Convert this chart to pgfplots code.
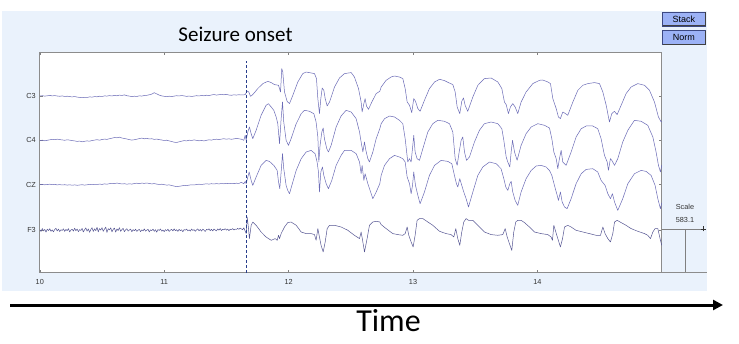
\documentclass[border=0pt]{standalone}
\usepackage{fontspec}
\setmainfont{Liberation Sans}
\newfontfamily\calibri{Carlito}
\usepackage{pgfplots}
\usepackage{pgfplotstable}
\pgfplotsset{compat=1.18}
\usetikzlibrary{arrows.meta}

\definecolor{panel}{RGB}{234,242,252}
\definecolor{trace}{RGB}{106,106,182}
\definecolor{onset}{RGB}{40,62,140}
\definecolor{btn}{RGB}{156,178,246}
\definecolor{btnedge}{RGB}{60,72,130}

% amplitude a in px above each channel's baseline, t in s
\pgfplotstableread[row sep=\\]{
t a\\
10.00 0.3\\10.02 0.6\\10.04 0.2\\10.06 0.5\\10.08 0.9\\10.10 0.4\\10.12 0.7\\10.14 0.3\\10.16 0.0\\10.18 0.4\\
10.20 -0.2\\10.22 0.1\\10.24 -0.3\\10.26 -0.6\\10.28 -0.2\\10.30 -0.8\\10.32 -1.1\\10.34 -1.4\\10.36 -1.0\\10.38 -1.2\\
10.40 -0.6\\10.42 -0.8\\10.44 -0.3\\10.46 -0.5\\10.48 0.1\\10.50 -0.2\\10.52 0.4\\10.54 0.2\\10.56 0.7\\10.58 0.3\\
10.60 0.9\\10.62 0.5\\10.64 1.2\\10.66 0.8\\10.68 1.4\\10.70 0.6\\10.72 0.2\\10.74 -0.3\\10.76 0.1\\10.78 -0.2\\
10.80 0.5\\10.82 0.2\\10.84 0.8\\10.86 1.0\\10.88 1.5\\10.90 2.2\\10.92 3.6\\10.94 2.4\\10.96 1.2\\10.98 0.4\\
11.00 0.0\\11.02 -0.4\\11.04 0.1\\11.06 -0.3\\11.08 0.2\\11.10 0.6\\11.12 0.3\\11.14 0.8\\11.16 0.4\\11.18 -0.1\\
11.20 0.3\\11.22 -0.2\\11.24 0.2\\11.26 0.6\\11.28 0.3\\11.30 0.9\\11.32 0.5\\11.34 1.1\\11.36 0.7\\11.38 1.3\\
11.40 1.8\\11.42 1.2\\11.44 1.6\\11.46 2.0\\11.48 1.5\\11.50 1.9\\11.52 1.3\\11.54 1.0\\11.56 1.5\\11.58 1.2\\
11.60 1.6\\11.62 1.3\\11.64 1.5\\
11.651 1.7\\11.667 5.3\\11.680 4.3\\11.694 0.0\\11.712 1.7\\11.752 7.7\\11.793 12.7\\11.833 15.0\\11.860 13.7\\11.886 11.7\\
11.919 11.0\\11.935 4.3\\11.945 27.7\\11.953 24.3\\11.967 4.3\\11.988 -5.0\\12.007 -7.3\\12.034 1.0\\12.074 14.3\\12.114 22.7\\
12.141 24.3\\12.208 22.7\\12.224 17.7\\12.235 -2.3\\12.248 -17.3\\12.259 -2.3\\12.270 8.3\\12.283 6.0\\12.294 -2.3\\12.310 -9.7\\
12.329 -5.7\\12.369 9.3\\12.409 18.3\\12.449 22.7\\12.503 23.7\\12.529 19.3\\12.562 7.7\\12.583 -5.7\\12.591 -15.7\\12.605 -7.3\\
12.615 -2.3\\12.626 -9.7\\12.642 -13.0\\12.669 -5.7\\12.704 2.7\\12.733 5.0\\
12.744 9.3\\12.784 16.0\\12.824 19.3\\12.851 20.3\\12.891 19.3\\12.918 17.7\\12.937 7.7\\12.953 -5.7\\12.972 -9.0\\12.990 -16.3\\
13.006 -2.3\\13.020 -5.0\\13.039 -12.3\\13.057 -15.0\\13.092 -4.0\\13.132 7.7\\13.173 14.3\\13.213 17.0\\13.253 15.7\\13.285 13.7\\
13.320 11.7\\13.339 4.3\\13.355 -10.7\\13.376 -17.3\\13.392 -5.0\\13.406 -1.7\\13.419 -9.0\\13.440 -15.0\\13.481 -0.7\\13.521 11.0\\
13.574 17.7\\13.628 18.3\\13.682 14.3\\13.714 7.7\\13.735 -5.7\\13.749 -8.3\\13.767 -17.3\\13.783 -10.7\\13.802 -7.3\\13.821 -10.7\\
13.837 -15.7\\
13.842 -17.3\\13.869 -5.7\\13.909 4.3\\13.963 12.7\\14.017 16.0\\14.043 16.3\\14.084 14.3\\14.105 12.7\\14.124 -2.3\\14.151 -12.3\\
14.169 -20.7\\14.185 -22.3\\14.204 -15.7\\14.226 -17.3\\14.244 -19.0\\14.285 -5.7\\14.325 6.0\\14.365 11.0\\14.405 12.7\\14.459 13.7\\
14.499 12.7\\14.526 4.3\\14.553 -9.0\\14.579 -25.7\\14.598 -17.3\\14.619 -15.0\\14.641 -18.3\\14.673 -9.0\\14.713 2.7\\14.753 9.3\\
14.807 12.7\\14.861 11.0\\14.901 6.0\\14.941 -5.7\\14.973 -20.7\\14.995 -25.7\\15.00 -25.0\\
}\cthree

\pgfplotstableread[row sep=\\]{
t a\\
10.00 -0.6\\10.02 -0.2\\10.04 -0.8\\10.06 -0.3\\10.08 0.2\\10.10 0.6\\10.12 0.3\\10.14 0.8\\10.16 0.4\\10.18 0.1\\
10.20 -0.3\\10.22 0.2\\10.24 -0.1\\10.26 -0.6\\10.28 -0.9\\10.30 -1.4\\10.32 -1.1\\10.34 -1.8\\10.36 -1.3\\10.38 -0.9\\
10.40 -1.2\\10.42 -0.5\\10.44 -0.1\\10.46 0.3\\10.48 -0.2\\10.50 0.5\\10.52 0.9\\10.54 0.6\\10.56 1.3\\10.58 1.8\\
10.60 2.5\\10.62 2.2\\10.64 2.8\\10.66 2.0\\10.68 1.5\\10.70 1.0\\10.72 0.4\\10.74 -0.1\\10.76 0.3\\10.78 0.8\\
10.80 1.4\\10.82 1.9\\10.84 1.2\\10.86 1.7\\10.88 1.0\\10.90 1.3\\10.92 0.6\\10.94 0.9\\10.96 0.4\\10.98 0.0\\
11.00 -0.5\\11.02 -0.2\\11.04 -0.9\\11.06 -1.5\\11.08 -2.2\\11.10 -2.5\\11.12 -1.8\\11.14 -1.2\\11.16 -0.6\\11.18 -0.9\\
11.20 -0.2\\11.22 -0.5\\11.24 0.1\\11.26 -0.4\\11.28 -0.8\\11.30 -0.5\\11.32 -0.9\\11.34 -0.3\\11.36 0.2\\11.38 -0.1\\
11.40 0.5\\11.42 0.8\\11.44 0.4\\11.46 0.9\\11.48 1.3\\11.50 0.8\\11.52 1.2\\11.54 0.7\\11.56 1.1\\11.58 1.6\\
11.60 1.2\\11.62 0.8\\
11.640 -0.3\\11.651 4.7\\11.659 -0.3\\11.672 8.0\\11.685 13.0\\11.699 6.3\\11.712 1.3\\11.739 9.7\\11.779 24.7\\11.819 34.7\\
11.838 36.3\\11.860 33.0\\11.881 29.7\\11.900 23.0\\11.913 16.3\\11.927 -3.7\\11.940 21.3\\11.951 38.0\\11.961 18.0\\11.980 -0.3\\
11.999 -5.3\\12.020 1.3\\12.061 16.3\\12.101 26.3\\12.128 29.7\\12.168 28.7\\12.203 26.3\\12.221 18.0\\12.235 3.0\\12.243 -22.0\\
12.253 -5.3\\12.267 8.0\\12.278 12.0\\12.288 1.3\\12.307 -8.7\\12.320 -12.0\\12.342 -5.3\\12.382 13.0\\12.422 24.0\\12.462 29.7\\
12.503 28.0\\12.543 21.3\\12.570 8.0\\12.583 -2.0\\12.597 -12.0\\12.610 -2.0\\12.621 -10.3\\12.637 -18.7\\12.650 -22.0\\12.677 -12.0\\
12.704 1.3\\12.733 11.3\\
12.744 16.3\\12.771 21.3\\12.811 24.0\\12.851 23.0\\12.891 19.7\\12.918 16.3\\12.937 1.3\\12.958 -22.0\\12.972 -18.7\\12.985 -22.0\\
13.001 -2.0\\13.006 4.7\\13.017 -12.0\\13.033 -18.7\\13.052 -20.3\\13.079 -8.7\\13.119 8.0\\13.159 16.3\\13.199 19.7\\13.253 18.7\\
13.293 16.3\\13.320 8.0\\13.339 -18.7\\13.355 -25.3\\13.371 -12.0\\13.387 -0.3\\13.400 3.0\\13.414 -12.0\\13.430 -20.3\\13.454 -17.0\\
13.494 -2.0\\13.534 9.7\\13.574 16.3\\13.628 18.0\\13.682 16.3\\13.714 11.3\\13.730 -0.3\\13.749 -17.0\\13.762 -22.0\\13.778 -27.0\\
13.789 -12.0\\13.800 -0.3\\13.816 -12.0\\13.837 -20.3\\
13.869 -5.3\\13.909 6.3\\13.950 13.0\\14.003 16.3\\14.057 14.7\\14.097 12.0\\14.116 1.3\\14.132 -12.0\\14.151 -18.7\\14.164 -28.7\\
14.177 -18.7\\14.191 -10.3\\14.204 -22.0\\14.231 -25.3\\14.271 -12.0\\14.311 3.0\\14.352 11.3\\14.392 14.0\\14.445 14.0\\14.485 11.3\\
14.512 1.3\\14.539 -15.3\\14.561 -22.0\\14.571 -30.3\\14.587 -18.7\\14.598 -20.3\\14.620 -25.3\\14.646 -18.7\\14.686 -2.0\\14.727 9.7\\
14.780 19.7\\14.834 18.7\\14.887 14.7\\14.928 3.0\\14.954 -12.0\\14.973 -25.3\\14.989 -32.0\\15.00 -25.0\\
}\cfour

\pgfplotstableread[row sep=\\]{
t a\\
10.00 0.0\\10.02 0.3\\10.04 -0.1\\10.06 0.2\\10.08 0.5\\10.10 0.1\\10.12 0.3\\10.14 -0.2\\10.16 0.1\\10.18 -0.3\\
10.20 0.0\\10.22 -0.4\\10.24 -0.1\\10.26 -0.5\\10.28 -0.2\\10.30 -0.6\\10.32 -0.3\\10.34 0.0\\10.36 -0.4\\10.38 -0.1\\
10.40 0.3\\10.42 0.0\\10.44 0.4\\10.46 0.2\\10.48 0.6\\10.50 0.3\\10.52 0.8\\10.54 0.5\\10.56 1.0\\10.58 1.4\\
10.60 1.1\\10.62 1.6\\10.64 1.2\\10.66 0.7\\10.68 1.0\\10.70 0.5\\10.72 0.9\\10.74 0.6\\10.76 1.2\\10.78 1.5\\
10.80 1.1\\10.82 1.6\\10.84 1.3\\10.86 1.7\\10.88 1.2\\10.90 0.8\\10.92 1.1\\10.94 0.6\\10.96 0.2\\10.98 0.5\\
11.00 0.0\\11.02 -0.4\\11.04 -0.2\\11.06 -0.8\\11.08 -1.4\\11.10 -2.0\\11.12 -1.6\\11.14 -1.2\\11.16 -0.7\\11.18 -0.9\\
11.20 -0.4\\11.22 -0.1\\11.24 -0.3\\11.26 0.2\\11.28 0.5\\11.30 0.2\\11.32 0.6\\11.34 0.9\\11.36 0.6\\11.38 1.0\\
11.40 0.7\\11.42 1.1\\11.44 0.8\\11.46 1.2\\11.48 0.9\\11.50 1.3\\11.52 1.0\\11.54 1.4\\11.56 1.1\\11.58 1.5\\
11.60 1.2\\11.62 2.4\\11.64 1.0\\
11.651 3.3\\11.659 1.0\\11.672 7.7\\11.683 12.7\\11.699 4.3\\11.712 -0.7\\11.739 7.7\\11.779 19.3\\11.819 24.3\\11.846 23.3\\
11.881 19.3\\11.908 14.3\\11.919 2.7\\11.929 -4.0\\11.940 12.7\\11.951 31.0\\11.961 16.0\\11.980 -0.7\\11.993 -5.7\\12.007 -9.0\\
12.026 -0.7\\12.061 14.3\\12.101 26.0\\12.141 32.7\\12.181 34.3\\12.213 31.0\\12.229 22.7\\12.240 12.7\\12.248 -7.3\\12.259 12.7\\
12.272 17.7\\12.283 9.3\\12.302 1.0\\12.320 -4.0\\12.347 4.3\\12.382 19.3\\12.422 29.3\\12.449 34.3\\12.503 34.3\\12.543 31.0\\
12.570 22.7\\12.583 11.0\\12.591 19.3\\12.605 4.3\\12.615 11.0\\12.637 1.0\\12.677 -14.0\\12.704 -7.3\\12.733 1.0\\
12.744 9.3\\12.771 19.3\\12.811 26.0\\12.851 29.3\\12.891 27.7\\12.918 26.0\\12.937 22.7\\12.953 7.7\\12.972 1.0\\12.985 -9.0\\
12.996 -0.7\\13.006 12.7\\13.020 -0.7\\13.039 -10.7\\13.057 -19.0\\13.092 -7.3\\13.132 9.3\\13.173 19.3\\13.226 24.3\\13.280 23.3\\
13.312 21.0\\13.333 9.3\\13.349 1.0\\13.360 -2.3\\13.376 6.0\\13.392 -0.7\\13.408 -7.3\\13.427 -14.0\\13.446 -22.3\\13.481 -7.3\\
13.521 9.3\\13.561 17.7\\13.615 22.7\\13.668 21.0\\13.708 16.0\\13.730 6.0\\13.746 -2.3\\13.762 -5.7\\13.778 1.0\\13.789 3.3\\
13.802 -7.3\\13.821 -15.7\\13.842 -20.7\\
13.869 -7.3\\13.909 6.0\\13.950 14.3\\13.990 18.7\\14.030 19.3\\14.070 17.7\\14.097 14.3\\14.116 9.3\\14.137 -0.7\\14.159 -10.7\\
14.169 -15.7\\14.185 -7.3\\14.199 -17.3\\14.218 -22.3\\14.239 -24.0\\14.271 -14.0\\14.311 1.0\\14.352 11.0\\14.392 15.3\\14.445 16.0\\
14.485 12.7\\14.512 4.3\\14.544 -0.7\\14.566 -9.0\\14.587 -14.0\\14.603 -9.0\\14.620 -17.3\\14.646 -25.7\\14.686 -14.0\\14.727 1.0\\
14.780 11.0\\14.834 14.3\\14.874 13.3\\14.914 9.3\\14.946 -0.7\\14.968 -14.0\\14.989 -24.0\\15.00 -18.0\\
}\cz

\pgfplotstableread[row sep=\\]{
t a\\
10.00 0.5\\10.01 -1.2\\10.02 1.8\\10.03 -0.6\\10.04 0.9\\10.05 -1.8\\10.06 1.1\\10.07 -0.3\\10.08 1.6\\10.09 -1.0\\
10.10 0.4\\10.11 -1.5\\10.12 0.8\\10.13 2.0\\10.14 -0.7\\10.15 1.2\\10.16 -1.3\\10.17 0.6\\10.18 -0.2\\10.19 1.5\\
10.20 -1.1\\10.21 0.9\\10.22 -0.4\\10.23 1.7\\10.24 -1.6\\10.25 0.3\\10.26 1.0\\10.27 -0.8\\10.28 2.1\\10.29 -0.5\\
10.30 1.3\\10.31 -1.4\\10.32 0.7\\10.33 -0.2\\10.34 1.9\\10.35 -1.7\\10.36 0.6\\10.37 2.4\\10.38 -0.9\\10.39 1.4\\
10.40 -2.0\\10.41 0.8\\10.42 2.6\\10.43 -1.2\\10.44 1.5\\10.45 -0.4\\10.46 3.0\\10.47 -1.6\\10.48 1.8\\10.49 0.2\\
10.50 2.7\\10.51 -1.0\\10.52 1.2\\10.53 3.2\\10.54 -2.2\\10.55 1.6\\10.56 0.4\\10.57 2.5\\10.58 -1.5\\10.59 0.9\\
10.60 2.2\\10.61 -1.8\\10.62 1.4\\10.63 -0.3\\10.64 2.6\\10.65 -1.1\\10.66 0.8\\10.67 1.9\\10.68 -1.4\\10.69 0.5\\
10.70 1.6\\10.71 -0.9\\10.72 0.3\\10.73 1.2\\10.74 -1.5\\10.75 0.7\\10.76 -0.4\\10.77 1.1\\10.78 -1.2\\10.79 0.2\\
10.80 0.9\\10.81 -1.3\\10.82 0.5\\10.83 -0.6\\10.84 1.4\\10.85 -0.8\\10.86 0.1\\10.87 1.0\\10.88 -1.6\\10.89 0.4\\
10.90 -0.3\\10.91 1.2\\10.92 -1.0\\10.93 0.6\\10.94 -1.9\\10.95 0.8\\10.96 -0.2\\10.97 1.3\\10.98 -0.9\\10.99 0.3\\
11.00 -1.4\\11.01 0.7\\11.02 -0.5\\11.03 1.1\\11.04 -1.2\\11.05 0.2\\11.06 0.9\\11.07 -0.7\\11.08 1.5\\11.09 -0.4\\
11.10 0.6\\11.11 -1.1\\11.12 1.0\\11.13 -0.3\\11.14 0.5\\11.15 -1.5\\11.16 0.8\\11.17 0.1\\11.18 1.2\\11.19 -0.6\\
11.20 0.4\\11.21 -0.9\\11.22 1.3\\11.23 -0.2\\11.24 0.7\\11.25 -1.0\\11.26 0.5\\11.27 1.4\\11.28 -0.5\\11.29 0.9\\
11.30 -0.8\\11.31 1.1\\11.32 0.2\\11.33 -1.2\\11.34 0.9\\11.35 0.4\\11.36 1.5\\11.37 -0.4\\11.38 1.0\\11.39 -0.7\\
11.40 1.2\\11.41 0.3\\11.42 -0.6\\11.43 1.4\\11.44 0.1\\11.45 1.8\\11.46 -0.3\\11.47 0.9\\11.48 0.5\\11.49 1.6\\
11.50 0.2\\11.51 1.3\\11.52 -0.4\\11.53 1.1\\11.54 0.6\\11.55 1.7\\11.56 0.3\\11.57 1.2\\11.58 0.8\\11.59 1.9\\
11.60 1.0\\11.61 2.2\\11.62 1.4\\11.63 0.6\\11.64 2.5\\
11.659 -3.3\\11.667 13.3\\11.675 5.0\\11.685 -8.3\\11.699 5.0\\11.712 8.3\\11.739 5.0\\11.779 -1.7\\11.819 -6.7\\11.860 -10.0\\
11.892 -8.3\\11.908 -10.0\\11.919 -5.0\\11.927 -8.3\\11.940 -3.3\\11.967 3.3\\11.993 7.7\\12.020 8.3\\12.061 5.0\\12.101 -1.7\\
12.141 -3.3\\12.181 -3.3\\12.208 -4.3\\12.221 -10.0\\12.235 1.7\\12.248 -6.7\\12.261 -15.0\\12.278 -21.7\\12.294 -11.7\\12.310 1.7\\
12.329 5.0\\12.369 5.0\\12.422 3.3\\12.476 0.0\\12.529 -5.0\\12.570 -8.3\\12.583 -1.7\\12.597 -11.7\\12.610 -21.7\\12.631 -8.3\\
12.650 5.0\\12.677 8.3\\12.704 9.0\\12.733 8.3\\
12.744 5.7\\12.784 1.7\\12.837 -3.3\\12.878 -4.3\\12.918 -5.0\\12.937 -3.3\\12.953 3.3\\12.966 -5.0\\12.985 -11.7\\13.001 -16.7\\
13.017 -5.0\\13.033 10.0\\13.052 11.7\\13.079 11.7\\13.119 8.3\\13.159 5.0\\13.213 -1.0\\13.266 -3.3\\13.306 -4.3\\13.328 -6.7\\
13.344 1.7\\13.360 -8.3\\13.376 -15.0\\13.392 -1.7\\13.408 8.3\\13.427 11.7\\13.446 10.0\\13.481 10.0\\13.521 5.0\\13.574 -1.7\\
13.628 -4.3\\13.682 -5.0\\13.722 -4.3\\13.741 1.7\\13.757 -6.7\\13.775 -13.3\\13.794 -20.0\\13.810 -1.7\\13.826 8.3\\13.842 10.0\\
13.869 10.0\\13.896 7.7\\13.936 3.3\\13.976 -1.7\\14.030 -3.3\\14.084 -4.3\\14.110 -6.7\\14.121 -10.0\\14.132 5.0\\14.148 -1.7\\
14.164 -8.3\\14.185 -16.7\\14.202 -8.3\\14.218 3.3\\14.244 5.0\\14.271 3.3\\14.311 0.0\\14.365 -1.7\\14.418 -3.3\\14.472 -5.0\\
14.507 -5.0\\14.526 3.3\\14.544 -3.3\\14.566 -8.3\\14.587 -11.7\\14.606 -3.3\\14.620 8.3\\14.641 10.0\\14.673 7.7\\14.713 5.0\\
14.753 1.7\\14.807 -1.0\\14.861 -3.3\\14.887 -5.0\\14.909 -8.3\\14.928 -1.7\\14.946 1.7\\14.968 1.7\\14.989 -10.0\\15.00 -15.0\\
}\fthree

\begin{document}
\begin{tikzpicture}[x=1pt,y=1pt]
\useasboundingbox (0,0) rectangle (739,343);
\fill[white] (0,0) rectangle (739,343);
\fill[panel] (2,52) rectangle (707,332);

\begin{axis}[
  at={(32,70.3)}, anchor=south west,
  scale only axis, width=622pt, height=220.7pt,
  xmin=10, xmax=15, ymin=0, ymax=220.7,
  xtick={10,11,12,13,14},
  ytick={42.4,88,132.7,176.4},
  yticklabels={F3,CZ,C4,C3},
  tick align=inside, major tick length=3pt,
  axis line style={black!45, line width=0.8pt},
  tick style={black!50, line width=0.6pt},
  axis background/.style={fill=white},
  /pgf/number format/assume math mode=true,
  every tick label/.append style={font=\fontsize{7.3}{8}\selectfont, text=black!80},
  xticklabel style={yshift=-3pt},
  yticklabel style={xshift=-0.5pt},
]
\addplot[trace, line width=0.5pt, line join=round] table[x=t, y expr=\thisrow{a}+176.4] {\cthree};
\addplot[trace, line width=0.5pt, line join=round] table[x=t, y expr=\thisrow{a}+132.7] {\cfour};
\addplot[trace, line width=0.5pt, line join=round] table[x=t, y expr=\thisrow{a}+88] {\cz};
\addplot[trace!80!black, line width=0.5pt, line join=round] table[x=t, y expr=\thisrow{a}+42.4] {\fthree};
\addplot[onset, line width=0.6pt, dash pattern=on 3pt off 2pt] coordinates {(11.658,0) (11.658,211.7)};
\end{axis}

% scale bar
\draw[black!50, line width=0.7pt] (662,114) -- (703,114);
\draw[black!50, line width=0.7pt] (685,114) -- (685,70.3);
\draw[black!45, line width=0.8pt] (662,70.3) -- (707,70.3);
\draw[black!80, line width=0.6pt] (700.5,114) -- (705.5,114) (703,111.5) -- (703,116.5);
\node[font=\fontsize{7.3}{8}\selectfont, text=black!80] at (685,136) {Scale};
\node[font=\fontsize{7.3}{8}\selectfont, text=black!80] at (685,123) {583.1};

% buttons
\filldraw[fill=btn, draw=btnedge, line width=0.6pt] (662.7,317) rectangle (705,331);
\draw[black!75, line width=1pt] (662.7,317) -- (705,317) -- (705,331);
\node[font=\fontsize{9}{10}\selectfont] at (683.85,324) {Stack};
\filldraw[fill=btn, draw=btnedge, line width=0.6pt] (662.7,298.3) rectangle (705,312.3);
\draw[black!75, line width=1pt] (662.7,298.3) -- (705,298.3) -- (705,312.3);
\node[font=\fontsize{9}{10}\selectfont] at (683.85,305.3) {Norm};

% titles and time arrow
\node[font=\calibri\fontsize{21}{24}\selectfont, anchor=base] at (235.5,301.3) {Seizure onset};
\draw[line width=3pt, -{Triangle[length=10pt,width=10pt]}] (10,38) -- (723,38);
\node[font=\calibri\fontsize{32}{36}\selectfont, anchor=base] at (388.5,11.3) {Time};
\end{tikzpicture}
\end{document}
